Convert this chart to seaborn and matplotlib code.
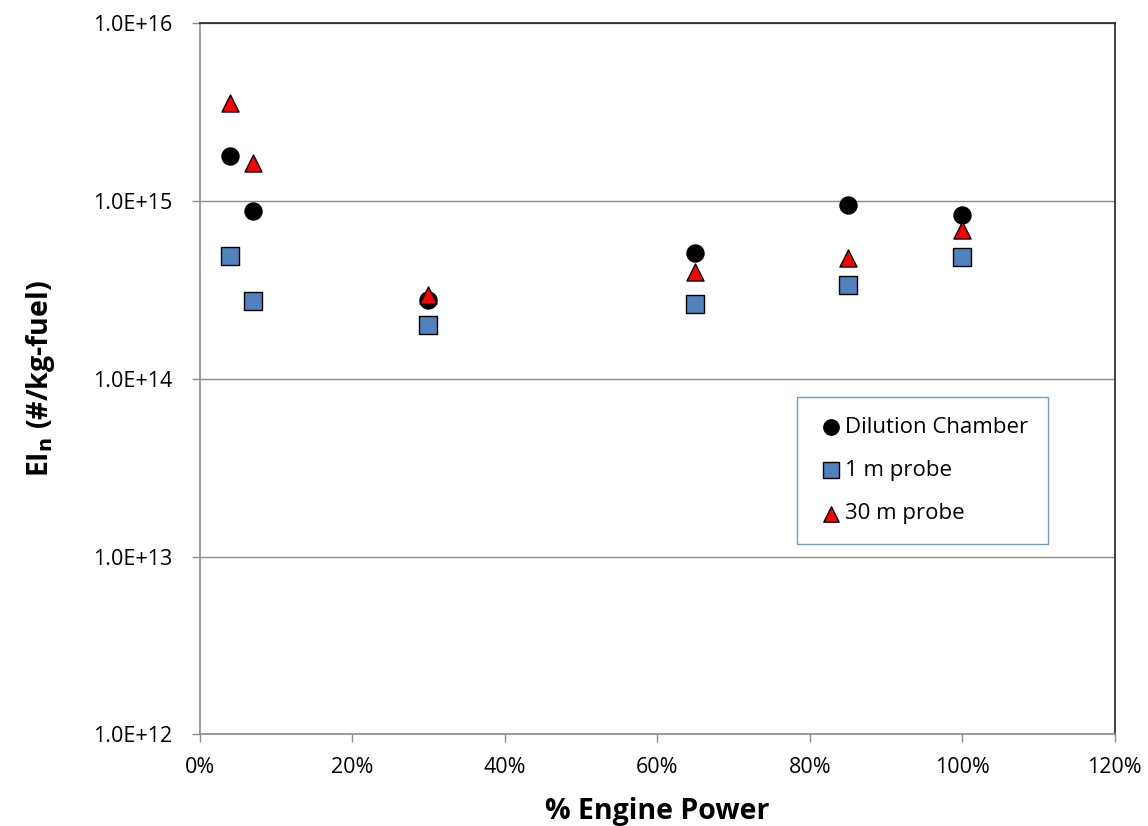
import numpy as np
import pandas as pd
import matplotlib
matplotlib.use("Agg")
import matplotlib.pyplot as plt
import seaborn as sns
from matplotlib.ticker import FuncFormatter, FixedLocator, NullLocator

power = [4, 7, 30, 65, 85, 100]
dilution = [1.79e15, 8.8e14, 2.78e14, 5.1e14, 9.5e14, 8.3e14]
probe_1m = [4.9e14, 2.74e14, 2.0e14, 2.64e14, 3.37e14, 4.84e14]
probe_30m = [3.56e15, 1.63e15, 2.96e14, 4.0e14, 4.78e14, 6.87e14]
series_names = ["Dilution Chamber", "1 m probe", "30 m probe"]

df = pd.concat([
    pd.DataFrame({"power": power, "ein": dilution, "series": series_names[0]}),
    pd.DataFrame({"power": power, "ein": probe_1m, "series": series_names[1]}),
    pd.DataFrame({"power": power, "ein": probe_30m, "series": series_names[2]}),
])

sns.set_theme(style="white")
plt.rcParams['font.family'] = ['Open Sans', 'DejaVu Sans']
plt.rcParams['text.color'] = 'black'
plt.rcParams['axes.labelcolor'] = 'black'
plt.rcParams['xtick.labelcolor'] = 'black'
plt.rcParams['ytick.labelcolor'] = 'black'

fig = plt.figure(figsize=(11.48, 8.26), dpi=100)
ax = fig.add_axes([0.174, 0.111, 0.797, 0.861])

palette = {series_names[0]: "black", series_names[1]: "#4F81BD", series_names[2]: "#FF0000"}
markers = {series_names[0]: "o", series_names[1]: "s", series_names[2]: "^"}

for name in series_names:
    sub = df[df["series"] == name]
    sns.scatterplot(data=sub, x="power", y="ein", ax=ax, color=palette[name],
                    marker=markers[name], s=150, edgecolor="black",
                    linewidth=1.0, label=name, zorder=3)

ax.set_yscale("log")
ax.set_ylim(1e12, 1e16)
ax.set_xlim(0, 120)
ax.yaxis.set_major_locator(FixedLocator([1e12, 1e13, 1e14, 1e15, 1e16]))
ax.yaxis.set_minor_locator(NullLocator())
ax.yaxis.set_major_formatter(FuncFormatter(lambda v, p: "1.0E+%d" % round(np.log10(v))))
ax.xaxis.set_major_locator(FixedLocator(list(range(0, 121, 20))))
ax.xaxis.set_major_formatter(FuncFormatter(lambda v, p: "%d%%" % v))

ax.grid(axis="y", color="#8c8c8c", linewidth=1.0)
ax.set_axisbelow(True)
for s in ["top", "right"]:
    ax.spines[s].set_color("#222222")
    ax.spines[s].set_linewidth(1.2)
for s in ["left", "bottom"]:
    ax.spines[s].set_color("#8c8c8c")
    ax.spines[s].set_linewidth(1.2)

ax.tick_params(axis="both", which="major", direction="out", length=6, width=1,
               color="#8c8c8c", labelcolor="black", labelsize=15.5, bottom=True, left=True)
ax.tick_params(axis="y", pad=14)
ax.tick_params(axis="x", pad=10)

ax.set_xlabel("% Engine Power", fontsize=20.5, fontweight="bold", labelpad=14, color="black")
ax.set_ylabel(r"EI$_\mathbf{n}$ (#/kg-fuel)", fontsize=20.5, fontweight="bold", labelpad=26, color="black")

leg = ax.legend(loc="upper left", bbox_to_anchor=(0.641, 0.49), frameon=True,
                fancybox=False, fontsize=16, handletextpad=0.05, labelspacing=1.0,
                borderpad=0.9, markerscale=0.9, handlelength=1.2)
leg.get_frame().set_edgecolor("#4F81BD")
leg.get_frame().set_linewidth(1.0)
for t in leg.get_texts():
    t.set_color("black")

fig.savefig("out.png", dpi=100)
